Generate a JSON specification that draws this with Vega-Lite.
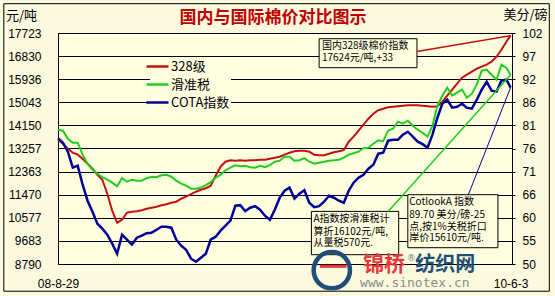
{
  "$schema": "https://vega.github.io/schema/vega-lite/v6.json",
  "width": 454,
  "height": 231,
  "autosize": {"type": "none"},
  "padding": {"left": 58, "top": 33, "right": 43, "bottom": 32},
  "background": "#fbf9de",
  "config": {
    "view": {"fill": "#ffffe0", "stroke": "#000000", "strokeWidth": 1},
    "axis": {"labelFont": "Liberation Sans", "labelFontSize": 12, "labelColor": "#000000", "titleFont": "Noto Sans CJK SC", "titleFontWeight": "normal", "titleFontSize": 13, "titleColor": "#000000"},
    "axisX": {"labelExpr": "utcFormat(datum.value, '%y-%-m-%-d')"}
  },
  "title": {"text": "国内与国际棉价对比图示", "frame": "group", "anchor": "middle", "offset": 0, "dx": -12, "dy": 24, "font": "Noto Sans CJK SC", "fontSize": 17, "fontWeight": "bold", "color": "#c00000"},
  "datasets": {
    "series": [
      {"date": "2008-08-29", "328级": 13597, "滑准税": 13983, "COTA指数": 78.32},
      {"date": "2008-09-05", "328级": 13442, "滑准税": 13945, "COTA指数": 77.31},
      {"date": "2008-09-12", "328级": 13249, "滑准税": 13635, "COTA指数": 75.28},
      {"date": "2008-09-19", "328级": 13094, "滑准税": 13481, "COTA指数": 71.68},
      {"date": "2008-09-26", "328级": 13017, "滑准税": 13481, "COTA指数": 72.13},
      {"date": "2008-10-03", "328级": 12862, "滑准税": 13017, "COTA指数": 67.85},
      {"date": "2008-10-10", "328级": 12668, "滑准税": 12669, "COTA指数": 64.25},
      {"date": "2008-10-17", "328级": 12475, "滑准税": 12437, "COTA指数": 61.77},
      {"date": "2008-10-24", "328级": 12243, "滑准税": 12282, "COTA指数": 59.07},
      {"date": "2008-10-31", "328级": 12050, "滑准税": 12146, "COTA指数": 57.95},
      {"date": "2008-11-07", "328级": 11509, "滑准税": 12050, "COTA指数": 56.60},
      {"date": "2008-11-14", "328级": 10851, "滑准税": 11934, "COTA指数": 54.57},
      {"date": "2008-11-21", "328级": 10387, "滑准税": 11798, "COTA指数": 52.32},
      {"date": "2008-11-28", "328级": 10503, "滑准税": 12108, "COTA指数": 56.60},
      {"date": "2008-12-05", "328级": 10774, "滑准税": 11972, "COTA指数": 55.47},
      {"date": "2008-12-12", "328级": 10813, "滑准税": 12050, "COTA指数": 54.35},
      {"date": "2008-12-19", "328级": 10832, "滑准税": 12011, "COTA指数": 55.92},
      {"date": "2008-12-26", "328级": 10871, "滑准税": 12011, "COTA指数": 56.37},
      {"date": "2009-01-02", "328级": 10929, "滑准税": 12108, "COTA指数": 56.93},
      {"date": "2009-01-09", "328级": 10967, "滑准税": 12166, "COTA指数": 57.05},
      {"date": "2009-01-16", "328级": 11006, "滑准税": 12146, "COTA指数": 57.72},
      {"date": "2009-01-23", "328级": 11064, "滑准税": 12224, "COTA指数": 58.40},
      {"date": "2009-01-30", "328级": 11103, "滑准税": 12243, "COTA指数": 58.40},
      {"date": "2009-02-06", "328级": 11161, "滑准税": 12166, "COTA指数": 58.17},
      {"date": "2009-02-13", "328级": 11199, "滑准税": 12011, "COTA指数": 55.47},
      {"date": "2009-02-20", "328级": 11315, "滑准税": 11895, "COTA指数": 54.12},
      {"date": "2009-02-27", "328级": 11393, "滑准税": 11818, "COTA指数": 53.22},
      {"date": "2009-03-06", "328级": 11489, "滑准税": 11702, "COTA指数": 51.19},
      {"date": "2009-03-13", "328级": 11586, "滑准税": 11702, "COTA指数": 50.52},
      {"date": "2009-03-20", "328级": 11663, "滑准税": 11741, "COTA指数": 51.42},
      {"date": "2009-03-27", "328级": 11721, "滑准税": 11837, "COTA指数": 52.32},
      {"date": "2009-04-03", "328级": 11818, "滑准税": 11953, "COTA指数": 55.47},
      {"date": "2009-04-10", "328级": 12204, "滑准税": 12127, "COTA指数": 56.15},
      {"date": "2009-04-17", "328级": 12553, "滑准税": 12243, "COTA指数": 57.50},
      {"date": "2009-04-24", "328级": 12746, "滑准税": 12417, "COTA指数": 58.62},
      {"date": "2009-05-01", "328级": 12804, "滑准税": 12514, "COTA指数": 59.75},
      {"date": "2009-05-08", "328级": 12785, "滑准税": 12611, "COTA指数": 63.13},
      {"date": "2009-05-15", "328级": 12804, "滑准税": 12572, "COTA指数": 63.24},
      {"date": "2009-05-22", "328级": 12785, "滑准税": 12591, "COTA指数": 61.89},
      {"date": "2009-05-29", "328级": 12804, "滑准税": 12533, "COTA指数": 62.67},
      {"date": "2009-06-05", "328级": 12804, "滑准税": 12514, "COTA指数": 63.01},
      {"date": "2009-06-12", "328级": 12823, "滑准税": 12591, "COTA指数": 62.22},
      {"date": "2009-06-19", "328级": 12823, "滑准税": 12533, "COTA指数": 60.87},
      {"date": "2009-06-26", "328级": 12862, "滑准税": 12611, "COTA指数": 59.97},
      {"date": "2009-07-03", "328级": 12901, "滑准税": 12746, "COTA指数": 62.22},
      {"date": "2009-07-10", "328级": 12939, "滑准税": 12785, "COTA指数": 64.92},
      {"date": "2009-07-17", "328级": 13017, "滑准税": 12939, "COTA指数": 66.50},
      {"date": "2009-07-24", "328级": 13094, "滑准税": 12939, "COTA指数": 67.18},
      {"date": "2009-07-31", "328级": 13152, "滑准税": 12785, "COTA指数": 64.70},
      {"date": "2009-08-07", "328级": 13171, "滑准税": 12804, "COTA指数": 65.82},
      {"date": "2009-08-14", "328级": 13171, "滑准税": 12881, "COTA指数": 66.61},
      {"date": "2009-08-21", "328级": 13133, "滑准税": 12746, "COTA指数": 63.79},
      {"date": "2009-08-28", "328级": 13017, "滑准税": 12669, "COTA指数": 62.79},
      {"date": "2009-09-04", "328级": 12997, "滑准税": 12707, "COTA指数": 63.01},
      {"date": "2009-09-11", "328级": 12997, "滑准税": 12746, "COTA指数": 64.02},
      {"date": "2009-09-18", "328级": 13055, "滑准税": 12785, "COTA指数": 65.37},
      {"date": "2009-09-25", "328级": 13113, "滑准税": 12804, "COTA指数": 64.92},
      {"date": "2009-10-02", "328级": 13152, "滑准税": 12823, "COTA指数": 64.25},
      {"date": "2009-10-09", "328级": 13191, "滑准税": 12901, "COTA指数": 63.79},
      {"date": "2009-10-16", "328级": 13519, "滑准税": 13017, "COTA指数": 66.50},
      {"date": "2009-10-23", "328级": 13713, "滑准税": 13075, "COTA指数": 68.30},
      {"date": "2009-10-30", "328级": 13945, "滑准税": 13133, "COTA指数": 69.43},
      {"date": "2009-11-06", "328级": 14177, "滑准税": 13268, "COTA指数": 70.10},
      {"date": "2009-11-13", "328级": 14409, "滑准税": 13287, "COTA指数": 71.45},
      {"date": "2009-11-20", "328级": 14602, "滑准税": 13442, "COTA指数": 72.35},
      {"date": "2009-11-27", "328级": 14737, "滑准税": 13577, "COTA指数": 74.83},
      {"date": "2009-12-04", "328级": 14795, "滑准税": 13539, "COTA指数": 75.05},
      {"date": "2009-12-11", "328级": 14853, "滑准税": 13945, "COTA指数": 77.76},
      {"date": "2009-12-18", "328级": 14873, "滑准税": 14022, "COTA指数": 77.98},
      {"date": "2009-12-25", "328级": 14892, "滑准税": 14293, "COTA指数": 77.98},
      {"date": "2010-01-01", "328级": 14911, "滑准税": 14215, "COTA指数": 79.11},
      {"date": "2010-01-08", "328级": 14931, "滑准税": 14331, "COTA指数": 79.78},
      {"date": "2010-01-15", "328级": 14931, "滑准税": 14138, "COTA指数": 78.66},
      {"date": "2010-01-22", "328级": 14931, "滑准税": 13983, "COTA指数": 77.53},
      {"date": "2010-01-29", "328级": 14911, "滑准税": 13867, "COTA指数": 76.97},
      {"date": "2010-02-05", "328级": 14892, "滑准税": 13713, "COTA指数": 76.18},
      {"date": "2010-02-12", "328级": 14873, "滑准税": 14138, "COTA指数": 79.11},
      {"date": "2010-02-19", "328级": 14892, "滑准税": 14911, "COTA指数": 82.93},
      {"date": "2010-02-26", "328级": 15066, "滑准税": 15298, "COTA指数": 86.08},
      {"date": "2010-03-05", "328级": 15298, "滑准税": 15608, "COTA指数": 86.98},
      {"date": "2010-03-12", "328级": 15530, "滑准税": 15298, "COTA指数": 85.18},
      {"date": "2010-03-19", "328级": 15762, "滑准税": 15414, "COTA指数": 85.41},
      {"date": "2010-03-26", "328级": 15994, "滑准税": 15530, "COTA指数": 86.08},
      {"date": "2010-04-02", "328级": 16111, "滑准税": 15221, "COTA指数": 85.18},
      {"date": "2010-04-09", "328级": 16227, "滑准税": 15376, "COTA指数": 84.96},
      {"date": "2010-04-16", "328级": 16342, "滑准税": 15724, "COTA指数": 86.98},
      {"date": "2010-04-23", "328级": 16420, "滑准税": 16265, "COTA指数": 89.24},
      {"date": "2010-04-30", "328级": 16497, "滑准税": 16304, "COTA指数": 91.04},
      {"date": "2010-05-07", "328级": 16613, "滑准税": 16111, "COTA指数": 89.01},
      {"date": "2010-05-14", "328级": 16806, "滑准税": 15917, "COTA指数": 88.79},
      {"date": "2010-05-21", "328级": 17077, "滑准税": 16497, "COTA指数": 91.26},
      {"date": "2010-05-28", "328级": 17386, "滑准税": 16381, "COTA指数": 91.49},
      {"date": "2010-06-03", "328级": 17624, "滑准税": 16102, "COTA指数": 89.70}
    ],
    "frame": [{"d1": "2008-06-13", "d2": "2010-07-28", "v1": 18856, "v2": 7738}],
    "boxes": [
      {"d1": "2009-09-04", "d2": "2010-01-21", "v1": 17502, "v2": 16381},
      {"d1": "2009-08-24", "d2": "2009-12-26", "v1": 10824, "v2": 9150},
      {"d1": "2010-01-08", "d2": "2010-05-16", "v1": 11470, "v2": 9420}
    ],
    "links": [
      {"series": "328级", "d1": "2010-01-21", "v1": 17011, "d2": "2010-06-03", "v2": 17624},
      {"series": "滑准税", "d1": "2009-12-11", "v1": 10824, "d2": "2010-06-03", "v2": 16102}
    ],
    "bluelink": [{"d1": "2010-04-04", "v1": 65.6, "d2": "2010-06-03", "v2": 89.7}],
    "notes": [
      {"date": "2009-09-08", "value": 17220, "label": "国内328级棉价指数"},
      {"date": "2009-09-08", "value": 16737, "label": "17624元/吨,+33"},
      {"date": "2009-08-27", "value": 10523, "label": "A指数按滑准税计"},
      {"date": "2009-08-27", "value": 10031, "label": "算折16102元/吨,"},
      {"date": "2009-08-27", "value": 9587, "label": "从量税570元."},
      {"date": "2010-01-10", "value": 11205, "label": "CotlookA 指数"},
      {"date": "2010-01-10", "value": 10696, "label": "89.70 美分/磅-25"},
      {"date": "2010-01-10", "value": 10232, "label": "点,按1%关税折口"},
      {"date": "2010-01-10", "value": 9788, "label": "岸价15610元/吨."}
    ],
    "logo": [{"date": "2009-09-22", "value": 8550}],
    "swoosh": [{"d1": "2009-09-05", "d2": "2009-10-13", "value": 8700}],
    "marks": [
      {"date": "2009-12-05", "value": 8763, "label": "锦桥"},
      {"date": "2010-01-13", "value": 9034, "label": "®"},
      {"date": "2010-03-02", "value": 8763, "label": "纺织网"},
      {"date": "2010-01-18", "value": 8067, "label": "www.sinotex.cn"}
    ]
  },
  "layer": [
    {
      "data": {"name": "series"},
      "transform": [{"fold": ["328级", "滑准税"], "as": ["key", "value"]}],
      "mark": {"type": "line", "strokeWidth": 2},
      "encoding": {
        "x": {
          "field": "date", "type": "temporal",
          "scale": {"type": "utc", "domain": [1219968000000, 1275696000000]},
          "axis": {
            "title": null, "values": [1219968000000, 1275523200000],
            "labelExpr": "utcFormat(datum.value, '%y-%-m-%-d')",
            "labelFlush": false, "labelOverlap": false, "grid": false, "domain": false, "ticks": false, "tickSize": 0, "labelPadding": 14,
            "encode": {"labels": {"update": {
              "align": {"signal": "datum.index == 1 ? 'right' : 'center'"},
              "dx": {"signal": "datum.index == 1 ? -8 : -4"}
            }}}
          }
        },
        "y": {
          "field": "value", "type": "quantitative",
          "scale": {"domain": [8790, 17723], "zero": false, "nice": false},
          "axis": {
            "orient": "left",
            "values": [8790, 9683, 10577, 11470, 12363, 13257, 14150, 15043, 15936, 16830, 17723],
            "format": "d", "grid": true, "gridColor": "#000000", "gridOpacity": 1, "gridWidth": 1,
            "domain": false, "ticks": false, "tickSize": 0, "labelPadding": 17, "labelBaseline": "middle",
            "title": "元/吨", "titleAngle": 0, "titleX": -37, "titleY": -18, "titleAlign": "center", "titleBaseline": "middle"
          }
        },
        "color": {
          "field": "key", "type": "nominal",
          "scale": {"domain": ["328级", "滑准税", "COTA指数"], "range": ["#c41010", "#22cc22", "#000099"]},
          "legend": {
            "title": null, "orient": "none", "legendX": 92, "legendY": 26, "direction": "vertical",
            "symbolType": "M-2.2,0H2.2", "symbolSize": 100, "symbolStrokeWidth": 2.5,
            "labelFont": "Noto Sans CJK SC", "labelFontSize": 13, "labelColor": "#000000", "labelOffset": 7,
            "rowPadding": 4, "padding": 1, "fillColor": "#ffffe0"
          }
        }
      }
    },
    {
      "data": {"name": "series"},
      "mark": {"type": "line", "strokeWidth": 2.5},
      "encoding": {
        "x": {"field": "date", "type": "temporal", "axis": {"title": null, "labelExpr": "utcFormat(datum.value, '%y-%-m-%-d')"}},
        "y": {
          "field": "COTA指数", "type": "quantitative",
          "scale": {"domain": [50, 102], "zero": false, "nice": false},
          "axis": {
            "orient": "right",
            "values": [50, 55.2, 60.4, 65.6, 70.8, 76, 81.2, 86.4, 91.6, 96.8, 102],
            "format": ".0f", "grid": false, "domain": false, "ticks": true, "tickSize": 3, "tickColor": "#000000",
            "labelPadding": 7, "labelBaseline": "middle",
            "title": "美分/磅", "titleAngle": 0, "titleX": 13, "titleY": -19, "titleAlign": "center", "titleBaseline": "middle"
          }
        },
        "color": {"datum": "COTA指数"}
      }
    },
    {
      "data": {"name": "frame"},
      "mark": {"type": "rect", "fillOpacity": 0, "stroke": "#000000", "strokeWidth": 1},
      "encoding": {
        "x": {"field": "d1", "type": "temporal", "axis": {"title": null, "labelExpr": "utcFormat(datum.value, '%y-%-m-%-d')"}},
        "x2": {"field": "d2"},
        "y": {"field": "v1", "type": "quantitative", "scale": {"domain": [8790, 17723], "zero": false, "nice": false}, "axis": null},
        "y2": {"field": "v2"}
      }
    },
    {
      "data": {"name": "boxes"},
      "mark": {"type": "rect", "fill": "#ffffe0", "stroke": "#000000", "strokeWidth": 1},
      "encoding": {
        "x": {"field": "d1", "type": "temporal", "axis": {"title": null, "labelExpr": "utcFormat(datum.value, '%y-%-m-%-d')"}},
        "x2": {"field": "d2"},
        "y": {"field": "v1", "type": "quantitative", "scale": {"domain": [8790, 17723], "zero": false, "nice": false}, "axis": null},
        "y2": {"field": "v2"}
      }
    },
    {
      "data": {"name": "links"},
      "mark": {"type": "rule", "strokeWidth": 1.5},
      "encoding": {
        "x": {"field": "d1", "type": "temporal", "axis": {"title": null, "labelExpr": "utcFormat(datum.value, '%y-%-m-%-d')"}},
        "x2": {"field": "d2"},
        "y": {"field": "v1", "type": "quantitative", "scale": {"domain": [8790, 17723], "zero": false, "nice": false}, "axis": null},
        "y2": {"field": "v2"},
        "color": {"field": "series", "type": "nominal"}
      }
    },
    {
      "data": {"name": "bluelink"},
      "mark": {"type": "rule", "strokeWidth": 1},
      "encoding": {
        "x": {"field": "d1", "type": "temporal", "axis": {"title": null, "labelExpr": "utcFormat(datum.value, '%y-%-m-%-d')"}},
        "x2": {"field": "d2"},
        "y": {"field": "v1", "type": "quantitative", "scale": {"domain": [50, 102], "zero": false, "nice": false}, "axis": null},
        "y2": {"field": "v2"},
        "color": {"datum": "COTA指数"}
      }
    },
    {
      "data": {"name": "notes"},
      "mark": {"type": "text", "align": "left", "baseline": "middle", "font": "Noto Sans CJK SC", "fontSize": 10, "color": "#000000"},
      "encoding": {
        "x": {"field": "date", "type": "temporal", "axis": {"title": null, "labelExpr": "utcFormat(datum.value, '%y-%-m-%-d')"}},
        "y": {"field": "value", "type": "quantitative", "scale": {"domain": [8790, 17723], "zero": false, "nice": false}, "axis": null},
        "text": {"field": "label"}
      }
    },
    {
      "data": {"name": "logo"},
      "mark": {"type": "point", "shape": "circle", "size": 1320, "filled": false, "stroke": "#1f4e79", "strokeWidth": 4.5, "opacity": 1},
      "encoding": {
        "x": {"field": "date", "type": "temporal", "axis": {"title": null, "labelExpr": "utcFormat(datum.value, '%y-%-m-%-d')"}},
        "y": {"field": "value", "type": "quantitative", "scale": {"domain": [8790, 17723], "zero": false, "nice": false}, "axis": null}
      }
    },
    {
      "data": {"name": "swoosh"},
      "mark": {"type": "rule", "color": "#e8383d", "strokeWidth": 3},
      "encoding": {
        "x": {"field": "d1", "type": "temporal", "axis": {"title": null, "labelExpr": "utcFormat(datum.value, '%y-%-m-%-d')"}},
        "x2": {"field": "d2"},
        "y": {"field": "value", "type": "quantitative", "scale": {"domain": [8790, 17723], "zero": false, "nice": false}, "axis": null}
      }
    },
    {
      "data": {"name": "marks"},
      "transform": [{"filter": "datum.label == '锦桥'"}],
      "mark": {"type": "text", "align": "center", "baseline": "middle", "font": "Noto Sans CJK SC", "fontSize": 21, "fontWeight": "bold", "color": "#e8383d"},
      "encoding": {
        "x": {"field": "date", "type": "temporal", "axis": {"title": null, "labelExpr": "utcFormat(datum.value, '%y-%-m-%-d')"}},
        "y": {"field": "value", "type": "quantitative", "scale": {"domain": [8790, 17723], "zero": false, "nice": false}, "axis": null},
        "text": {"field": "label"}
      }
    },
    {
      "data": {"name": "marks"},
      "transform": [{"filter": "datum.label == '纺织网'"}],
      "mark": {"type": "text", "align": "center", "baseline": "middle", "font": "Noto Sans CJK SC", "fontSize": 20, "fontWeight": "bold", "color": "#1f4e79"},
      "encoding": {
        "x": {"field": "date", "type": "temporal", "axis": {"title": null, "labelExpr": "utcFormat(datum.value, '%y-%-m-%-d')"}},
        "y": {"field": "value", "type": "quantitative", "scale": {"domain": [8790, 17723], "zero": false, "nice": false}, "axis": null},
        "text": {"field": "label"}
      }
    },
    {
      "data": {"name": "marks"},
      "transform": [{"filter": "datum.label == '®'"}],
      "mark": {"type": "text", "align": "center", "baseline": "middle", "font": "DejaVu Sans", "fontSize": 9, "color": "#777777"},
      "encoding": {
        "x": {"field": "date", "type": "temporal", "axis": {"title": null, "labelExpr": "utcFormat(datum.value, '%y-%-m-%-d')"}},
        "y": {"field": "value", "type": "quantitative", "scale": {"domain": [8790, 17723], "zero": false, "nice": false}, "axis": null},
        "text": {"field": "label"}
      }
    },
    {
      "data": {"name": "marks"},
      "transform": [{"filter": "datum.label == 'www.sinotex.cn'"}],
      "mark": {"type": "text", "align": "center", "baseline": "middle", "font": "DejaVu Sans Mono", "fontSize": 13, "color": "#8a8a8a"},
      "encoding": {
        "x": {"field": "date", "type": "temporal", "axis": {"title": null, "labelExpr": "utcFormat(datum.value, '%y-%-m-%-d')"}},
        "y": {"field": "value", "type": "quantitative", "scale": {"domain": [8790, 17723], "zero": false, "nice": false}, "axis": null},
        "text": {"field": "label"}
      }
    }
  ],
  "resolve": {"scale": {"y": "independent"}}
}
